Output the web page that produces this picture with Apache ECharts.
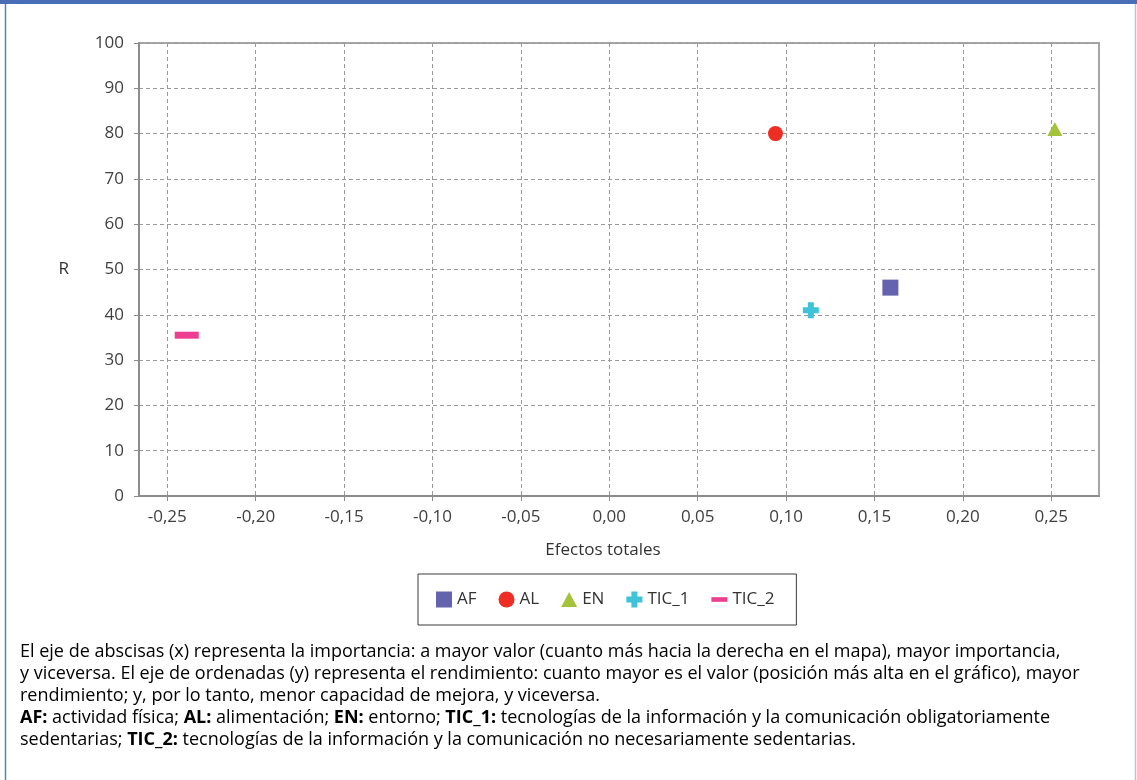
<!DOCTYPE html>
<html>
<head>
<meta charset="utf-8">
<script src="https://cdn.jsdelivr.net/npm/echarts@6/dist/echarts.min.js"></script>
<style>
  html, body { margin: 0; padding: 0; background: #fff; }
  #chart { width: 1137px; height: 780px; }
</style>
</head>
<body>
<div id="chart"></div>
<script>
// values
const seriesNames = ['AF', 'AL', 'EN', 'TIC_1', 'TIC_2'];
const efectosTotales = [0.159, 0.094, 0.252, 0.114, -0.239];
const rendimiento = [46, 80, 81, 41, 35.5];
const xTickValues = [-0.25, -0.2, -0.15, -0.1, -0.05, 0, 0.05, 0.1, 0.15, 0.2, 0.25];

const colors = ['#6464ae', '#ee2e24', '#a3c43a', '#3ec3d8', '#ec3f8f'];
const symbols = [
    'rect',
    'circle',
    'triangle',
    'path://M5,0h6v5h5v6h-5v5h-6v-5h-5v-6h5z',
    'path://M0,0h24v7h-24z'
];
const symbolSizes = [16, 15, [15, 14], 16, [24, 7]];

const noteLines = [
    '{n|El eje de abscisas (x) representa la importancia: a mayor valor (cuanto más hacia la derecha en el mapa), mayor importancia,}',
    '{n|y viceversa. El eje de ordenadas (y) representa el rendimiento: cuanto mayor es el valor (posición más alta en el gráfico), mayor}',
    '{n|rendimiento; y, por lo tanto, menor capacidad de mejora, y viceversa.}',
    '{b|AF:}{n| actividad física; }{b|AL:}{n| alimentación; }{b|EN:}{n| entorno; }{b|TIC_1:}{n| tecnologías de la información y la comunicación obligatoriamente}',
    '{n|sedentarias; }{b|TIC_2:}{n| tecnologías de la información y la comunicación no necesariamente sedentarias.}'
];

const FONT = '"Open Sans", "Noto Sans", sans-serif';
const NOTE_SIZE = 18;

function fmt(v) {
    return v.toFixed(2).replace('.', ',');
}

const chart = echarts.init(document.getElementById('chart'), null, { renderer: 'canvas' });

const option = {
    animation: false,
    backgroundColor: '#fff',
    textStyle: { fontFamily: FONT },
    grid: {
        left: 139, right: 38, top: 43, bottom: 284,
        show: true,
        borderColor: '#a6a6a6',
        borderWidth: 2
    },
    legend: {
        left: 418, top: 574,
        padding: [17, 22, 17, 18],
        itemWidth: 16, itemHeight: 16,
        itemGap: 22,
        borderColor: '#3a3a3a',
        borderWidth: 1,
        textStyle: { fontSize: 17, color: '#333', fontFamily: FONT },
        data: seriesNames.map((n, i) => ({ name: n, icon: symbols[i] === 'rect' ? 'path://M0,0h10v10h-10z' : (symbols[i] === 'triangle' ? 'path://M5,0L10,9.3H0z' : symbols[i]) }))
    },
    xAxis: {
        type: 'value',
        min: -0.266, max: 0.277,
        name: 'Efectos totales',
        nameLocation: 'middle',
        nameGap: 46,
        nameTextStyle: { fontSize: 17, color: '#333', padding: [0, 32, 0, 0] },
        axisLine: { show: true, onZero: false, lineStyle: { color: '#8c8c8c', width: 2 } },
        axisTick: { show: true, length: 5, customValues: xTickValues, lineStyle: { color: '#8c8c8c' } },
        axisLabel: { customValues: xTickValues, formatter: fmt, fontSize: 17, color: '#404040', margin: 13 },
        splitLine: { show: true, lineStyle: { color: '#9a9a9a', type: [4, 3], width: 1 } }
    },
    yAxis: {
        type: 'value',
        min: 0, max: 100, interval: 10,
        name: 'R',
        nameLocation: 'middle',
        nameRotate: 0,
        nameGap: 70,
        nameTextStyle: { fontSize: 17, color: '#333' },
        axisLine: { show: true, onZero: false, lineStyle: { color: '#8c8c8c', width: 2 } },
        axisTick: { show: true, length: 5, lineStyle: { color: '#8c8c8c' } },
        axisLabel: { fontSize: 17, color: '#404040', margin: 15 },
        splitLine: { show: true, lineStyle: { color: '#9a9a9a', type: [4, 3], width: 1 } }
    },
    series: seriesNames.map((n, i) => ({
        name: n,
        type: 'scatter',
        symbol: symbols[i],
        symbolSize: symbolSizes[i],
        itemStyle: { color: colors[i], opacity: 1 },
        data: [[efectosTotales[i], rendimiento[i]]]
    })),
    graphic: [
        { type: 'rect', shape: { x: 0, y: 0, width: 1137, height: 4 }, style: { fill: '#4a6db8' }, silent: true },
        { type: 'line', shape: { x1: 5.5, y1: 4, x2: 5.5, y2: 780 }, style: { stroke: '#4f86c6', lineWidth: 1.5 }, silent: true },
        { type: 'line', shape: { x1: 1135.5, y1: 4, x2: 1135.5, y2: 780 }, style: { stroke: '#a9c8e8', lineWidth: 1.5 }, silent: true },
        {
            type: 'text',
            left: 20, top: 641,
            silent: true,
            style: {
                text: noteLines.join('\n'),
                lineHeight: 22,
                rich: {
                    n: { fontFamily: FONT, fontSize: NOTE_SIZE, color: '#333', lineHeight: 22 },
                    b: { fontFamily: FONT, fontSize: NOTE_SIZE, fontWeight: 'bold', color: '#333', lineHeight: 22 }
                }
            }
        }
    ]
};

chart.setOption(option);
</script>
</body>
</html>
